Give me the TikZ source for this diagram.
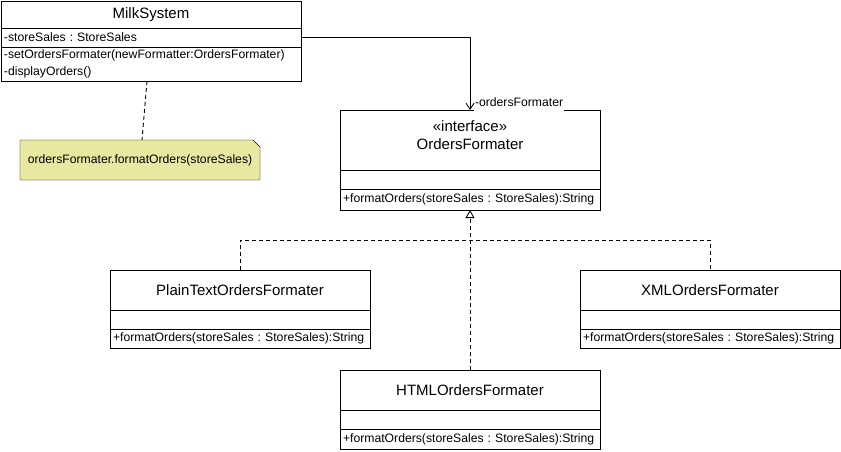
\documentclass[tikz,border=0pt]{standalone}
\usepackage{fontspec}
\setmainfont{Liberation Sans}
\usetikzlibrary{positioning,arrows.meta,backgrounds}
\definecolor{notefill}{RGB}{232,232,160}
\newcommand{\umlbig}{\fontsize{15}{18}\selectfont}
\newcommand{\umlsmall}{\fontsize{12.2}{17}\selectfont\frenchspacing}

\begin{document}
\begin{tikzpicture}[x=1pt,y=-1pt,line width=0.9pt,font=\umlsmall,
  every node/.style={outer sep=0pt},
  classtitle/.style={draw, minimum width=260pt, minimum height=40pt, inner sep=0pt, font=\umlbig, align=center},
  classpart/.style={draw, text width=254pt, inner xsep=3pt, inner ysep=0pt, minimum height=19pt, align=left},
  realize/.style={dash pattern=on 4pt off 3pt},
  assoc/.style={-{Straight Barb[length=6pt,width=8pt]}},
  rolelabel/.style={fill=white, inner xsep=1pt, inner ysep=0pt, minimum height=18pt}]
\useasboundingbox (0,0) rectangle (841,451);

% client
\node[classtitle, minimum width=300pt, minimum height=27pt] (milk) at (151,14.5) {MilkSystem};
\node[classpart, text width=294pt, below=0pt of milk] (milkA) {-storeSales : StoreSales};
\node[classpart, text width=294pt, minimum height=34pt, below=0pt of milkA] (milkM) {-setOrdersFormater(newFormatter:OrdersFormater)\\-displayOrders()};

% note
\node[minimum width=240pt, minimum height=40pt, inner sep=0pt] (note) at (140,160) {ordersFormater.formatOrders(storeSales)};
\begin{scope}[on background layer]
\draw[fill=notefill] (note.south west) -- (note.north west) -- ([xshift=-7pt]note.north east) -- ([yshift=-7pt]note.north east) -- (note.south east) -- cycle;
\end{scope}
\draw[realize] ([xshift=-4pt]milkM.south) -- ([xshift=2pt]note.north);

% interface
\node[classtitle, minimum height=60pt, text depth=10pt] (iface) at (470,140) {«interface»\\OrdersFormater};
\node[classpart, below=0pt of iface] (ifaceA) {};
\node[classpart, minimum height=21pt, below=0pt of ifaceA] (ifaceM) {+formatOrders(storeSales : StoreSales):String};

% implementations
\node[classtitle] (plain) at (240,290) {PlainTextOrdersFormater};
\node[classpart, below=0pt of plain] (plainA) {};
\node[classpart, below=0pt of plainA] (plainM) {+formatOrders(storeSales : StoreSales):String};

\node[classtitle] (xml) at (710,290) {XMLOrdersFormater};
\node[classpart, below=0pt of xml] (xmlA) {};
\node[classpart, below=0pt of xmlA] (xmlM) {+formatOrders(storeSales : StoreSales):String};

\node[classtitle] (html) at (470,390) {HTMLOrdersFormater};
\node[classpart, below=0pt of html] (htmlA) {};
\node[classpart, minimum height=20pt, below=0pt of htmlA] (htmlM) {+formatOrders(storeSales : StoreSales):String};

% association
\node[rolelabel, anchor=west] (role) at (474,102) {-ordersFormater};
\draw[assoc] (milkA.east) -| (iface.north);

% realization
\coordinate (join) at (470,240);
\draw[realize, -{Triangle[open,length=8pt,width=9pt]}] (html.north) -- (ifaceM.south);
\draw[realize] (plain.north) |- (join) -| (xml.north);

\end{tikzpicture}
\end{document}
